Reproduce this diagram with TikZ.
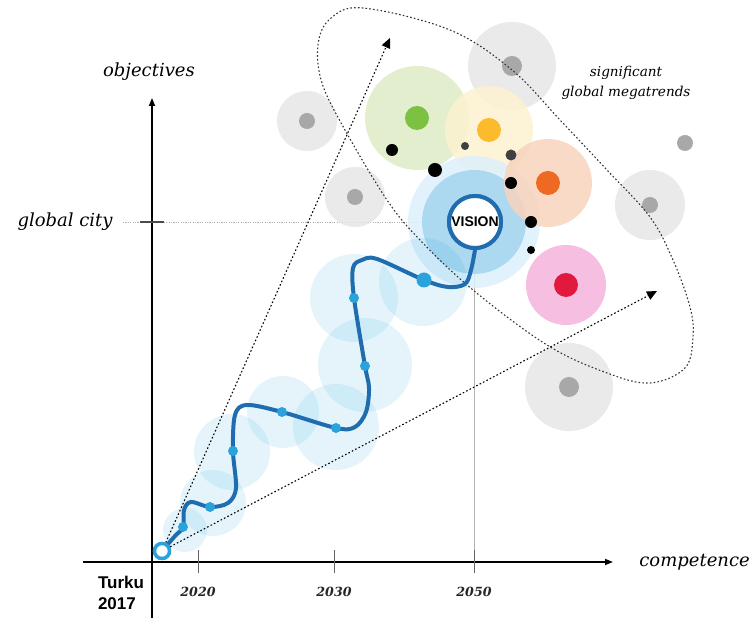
\documentclass[tikz,border=0pt]{standalone}
\usepackage{fontspec}
\setmainfont{DejaVu Serif}
\setsansfont{Liberation Sans}
\usetikzlibrary{arrows.meta}
\definecolor{trailblue}{HTML}{1F6CAF}
\definecolor{stepblue}{HTML}{2AA3DD}
\definecolor{mistblue}{HTML}{0096DC}
\definecolor{grayhalo}{HTML}{E6E6E6}
\definecolor{graydot}{HTML}{A8A8A8}
\definecolor{greenhalo}{HTML}{DDEBC6}
\definecolor{greendot}{HTML}{7DC142}
\definecolor{yellowhalo}{HTML}{FDF2D0}
\definecolor{yellowdot}{HTML}{FBBB2C}
\definecolor{orangehalo}{HTML}{F8D3BC}
\definecolor{orangedot}{HTML}{EE6A23}
\definecolor{pinkhalo}{HTML}{F4B3DB}
\definecolor{pinkdot}{HTML}{E2193F}
\definecolor{visionouter}{HTML}{DCF0FB}
\definecolor{visioninner}{HTML}{A3D4EF}
\begin{document}
\begin{tikzpicture}[x=0.5pt,y=-0.5pt,
		axis/.style={line width=0.8pt, -{Triangle[length=4pt,width=3pt]}},
		guide/.style={line width=0.55pt, dash pattern=on 0.8pt off 1.1pt, -{Triangle[length=5pt,width=4.5pt]}},
		halo/.style={fill opacity=0.85},
		mist/.style={fill=mistblue, fill opacity=0.1},
		lbl/.style={font=\fontsize{9}{11}\selectfont\itshape, inner sep=0pt},
		year/.style={font=\fontsize{6.3}{8}\selectfont\bfseries\itshape, inner sep=0pt, text=black!85}]
	\useasboundingbox (0,0) rectangle (751,619);
	% guide lines for the vision point
	\draw [gray!60, line width=0.4pt, dash pattern=on 0.6pt off 0.6pt] (123,222) -- (450,222);
	\draw [gray!60, line width=0.4pt] (474,250) -- (474,562);
	% global megatrends
	\fill [grayhalo, halo] (307,121) circle (30);
	\fill [grayhalo, halo] (355,197) circle (30);
	\fill [grayhalo, halo] (512,66) circle (44);
	\fill [grayhalo, halo] (650,205) circle (35);
	\fill [grayhalo, halo] (569,387) circle (44);
	\fill [greenhalo, halo] (417,118) circle (52);
	\fill [yellowhalo, halo] (489,130) circle (44);
	\fill [visionouter, halo] (474,222) circle (66);
	\fill [visioninner, halo] (474,222) circle (52);
	\fill [orangehalo, halo] (548,183) circle (44);
	\fill [pinkhalo, halo] (566,285) circle (40);
	% steps along the way
	\fill [mist] (423,282) circle (44);
	\fill [mist] (354,298) circle (44);
	\fill [mist] (365,365) circle (47);
	\fill [mist] (336,427) circle (43);
	\fill [mist] (283,412) circle (36);
	\fill [mist] (232,452) circle (38);
	\fill [mist] (213,503) circle (33);
	\fill [mist] (185,530) circle (22);
	% trend cores
	\fill [graydot] (307,121) circle (8);
	\fill [graydot] (355,197) circle (8);
	\fill [graydot] (512,66) circle (10);
	\fill [graydot] (685,143) circle (8);
	\fill [graydot] (650,205) circle (8);
	\fill [graydot] (569,387) circle (10);
	\fill [greendot] (417,118) circle (12);
	\fill [yellowdot] (489,130) circle (12);
	\fill [orangedot] (548,183) circle (12);
	\fill [pinkdot] (566,285) circle (12);
	\fill [black] (392,150) circle (6);
	\fill [black] (435,170) circle (7);
	\fill [black!75] (465,146) circle (4);
	\fill [black!75] (511,155) circle (5.5);
	\fill [black] (511,183) circle (6);
	\fill [black] (531,222) circle (6);
	\fill [black] (531,250) circle (4);
	% axes
	\draw [axis] (152,618) -- (152,98);
	\draw [axis] (83,562) -- (613,562);
	\draw [line width=0.6pt, black!70] (140,222) -- (164,222);
	\draw [line width=0.4pt, black!60] (198,550) -- (198,573);
	\draw [line width=0.4pt, black!60] (334,550) -- (334,573);
	\draw [line width=0.4pt, black!60] (474,550) -- (474,573);
	% nodes
	\node [circle, draw=stepblue, fill=white, line width=1.7pt, minimum size=7.5pt, inner sep=0pt] (turku) at (162,551) {};
	\node [circle, draw=trailblue, fill=white, line width=2pt, minimum size=26pt, inner sep=0pt,
		font=\sffamily\bfseries\fontsize{7}{8}\selectfont] (vision) at (475,222) {VISION};
	\coordinate (upper) at (390,38);
	\coordinate (lower) at (657,291);
	% the cone and the megatrend loop
	\draw [guide] (turku) -- (upper);
	\draw [guide] (turku) -- (lower);
	\draw [line width=0.55pt, black!80, dash pattern=on 0.8pt off 1.1pt] plot [smooth cycle, tension=0.6] coordinates {
		(363,8) (450,30) (512,70) (560,120) (607,170) (650,217) (673,260) (690,307) (693,337)
		(685,368) (650,383) (607,373) (547,345) (473,290) (420,240) (387,200) (345,130) (322,83)
		(318,45) (330,19)};
	% the way to the vision
	\coordinate (d1) at (183,527);
	\coordinate (d2) at (210,507);
	\coordinate (d3) at (233,451);
	\coordinate (d4) at (282,412);
	\coordinate (d5) at (336,428);
	\coordinate (d6) at (365,366);
	\coordinate (d7) at (354,298);
	\coordinate (d8) at (424,280);
	\draw [trailblue, line width=2pt, line cap=round] plot [smooth, tension=0.55] coordinates {
		(turku) (175,536) (d1) (184,510) (191,502) (d2) (228,503) (236,488) (d3) (235,415)
		(247,405) (d4) (d5) (355,427) (366,412) (369,388) (d6) (d7) (353,268) (362,260)
		(377,259) (d8) (448,287) (465,284) (471,270) (vision.south)};
	\fill [stepblue] (d1) circle (5);
	\fill [stepblue] (d2) circle (5);
	\fill [stepblue] (d3) circle (5);
	\fill [stepblue] (d4) circle (5);
	\fill [stepblue] (d5) circle (5);
	\fill [stepblue] (d6) circle (5);
	\fill [stepblue] (d7) circle (5);
	\fill [stepblue] (d8) circle (7.5);
	\node [circle, draw=stepblue, fill=white, line width=1.7pt, minimum size=7.5pt, inner sep=0pt] at (turku) {};
	\node [circle, draw=trailblue, fill=white, line width=2pt, minimum size=26pt, inner sep=0pt,
		font=\sffamily\bfseries\fontsize{7}{8}\selectfont] at (vision) {VISION};
	% labels
	\node [lbl] (objectives) at (149,72) {objectives};
	\node [lbl, anchor=east] (globalcity) at (113,222) {global city};
	\node [lbl, anchor=west] (competence) at (639,562) {competence};
	\node [font=\fontsize{6.8}{10}\selectfont\itshape, align=center, inner sep=0pt] (megatrends) at (626,83) {significant\\global megatrends};
	\node [font=\sffamily\bfseries\fontsize{8.5}{10.5}\selectfont, align=left, inner sep=0pt] (start) at (121,593) {Turku\\2017};
	\node [year] (y2020) at (198,592) {2020};
	\node [year] (y2030) at (334,592) {2030};
	\node [year] (y2050) at (474,592) {2050};
\end{tikzpicture}
\end{document}
